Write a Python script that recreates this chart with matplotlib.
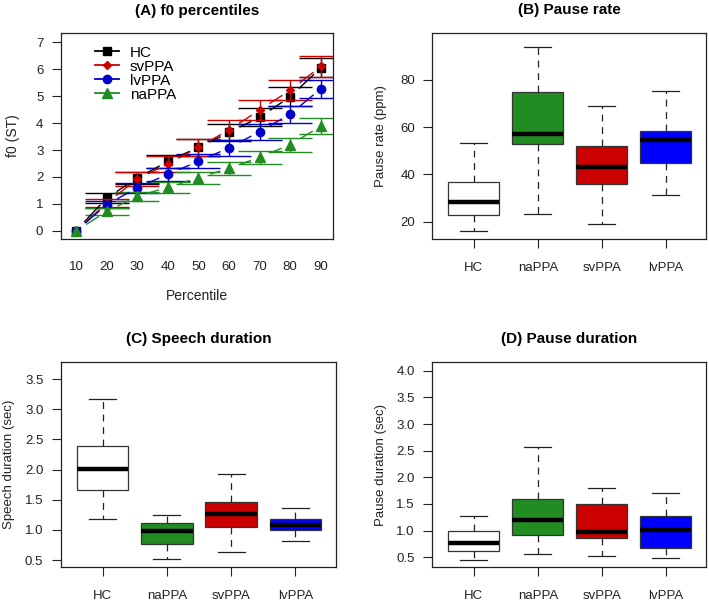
import matplotlib
matplotlib.use('Agg')
from matplotlib import pyplot as plt
from matplotlib.lines import Line2D

plt.rcParams['font.family'] = ['Liberation Sans', 'DejaVu Sans']

# (A) f0 percentiles: mean and error per group
percentiles = [10, 20, 30, 40, 50, 60, 70, 80, 90]
f0_hc = [0, 1.22, 1.95, 2.58, 3.10, 3.65, 4.22, 4.97, 6.05]
f0_hc_err = [0, 0.17, 0.22, 0.24, 0.31, 0.33, 0.33, 0.35, 0.35]
f0_sv = [0, 1.03, 1.92, 2.48, 3.10, 3.75, 4.48, 5.22, 6.10]
f0_sv_err = [0, 0.15, 0.26, 0.30, 0.32, 0.37, 0.37, 0.38, 0.38]
f0_lv = [0, 0.97, 1.60, 2.10, 2.58, 3.08, 3.68, 4.33, 5.27]
f0_lv_err = [0, 0.13, 0.18, 0.24, 0.26, 0.29, 0.30, 0.31, 0.34]
f0_na = [0, 0.72, 1.28, 1.62, 1.97, 2.32, 2.73, 3.20, 3.88]
f0_na_err = [0, 0.12, 0.17, 0.21, 0.22, 0.23, 0.25, 0.26, 0.30]

# boxplot groups
groups = ['HC', 'naPPA', 'svPPA', 'lvPPA']
box_colors = ['white', '#228B22', '#CD0000', '#0000FF']

# (B) pause rate (ppm)
rate_whislo = [16.1, 23.4, 18.9, 31.3]
rate_q1 = [23.0, 52.8, 35.8, 44.9]
rate_med = [28.2, 56.9, 43.2, 54.5]
rate_q3 = [36.7, 74.9, 52.1, 58.4]
rate_whishi = [53.1, 94.0, 69.0, 75.3]

# (C) speech duration (sec)
speech_whislo = [1.18, 0.51, 0.64, 0.81]
speech_q1 = [1.66, 0.77, 1.05, 1.00]
speech_med = [2.01, 0.99, 1.27, 1.08]
speech_q3 = [2.40, 1.11, 1.46, 1.18]
speech_whishi = [3.17, 1.24, 1.92, 1.37]

# (D) pause duration (sec)
pause_whislo = [0.45, 0.55, 0.52, 0.48]
pause_q1 = [0.61, 0.91, 0.86, 0.68]
pause_med = [0.77, 1.19, 0.97, 1.01]
pause_q3 = [0.99, 1.60, 1.49, 1.28]
pause_whishi = [1.28, 2.56, 1.79, 1.71]

W, H = 709, 601
fig = plt.figure(figsize=(W / 100, H / 100), dpi=100)


def px_axes(left, top, right, bottom):
    return fig.add_axes([left / W, 1 - bottom / H, (right - left) / W, (bottom - top) / H])


def style_axes(ax):
    for sp in ax.spines.values():
        sp.set_linewidth(0.9)
        sp.set_color('#222222')
    ax.tick_params(direction='out', length=6.5, width=0.8, color='#222222',
                   labelsize=9.5, labelcolor='#222222')
    ax.tick_params(axis='y', pad=6)


axA = px_axes(60.7, 33.3, 333.3, 238.7)
axB = px_axes(432.3, 33.3, 706, 238.7)
axC = px_axes(60.7, 362.3, 336, 566.7)
axD = px_axes(432.3, 362.3, 706, 566.7)

# ---- panel A
xs = list(range(1, len(percentiles) + 1))
series = [
    ('HC', f0_hc, f0_hc_err, 'black', 's', 5.5),
    ('svPPA', f0_sv, f0_sv_err, '#CD0000', 'D', 3.8),
    ('lvPPA', f0_lv, f0_lv_err, '#0000CD', 'o', 6),
    ('naPPA', f0_na, f0_na_err, '#228B22', '^', 6.5),
]
axA.set_xlim(0.5, 9.41)
axA.set_ylim(-0.29, 7.33)
handles = []
for name, ys, err, col, mk, ms in series:
    # first percentile is the reference point (no spread)
    axA.errorbar(xs[1:], ys[1:], yerr=err[1:], fmt='none', ecolor=col, elinewidth=1.0,
                 capsize=15.5, capthick=1.0)
    for i in range(len(xs) - 1):
        axA.annotate('', xy=(xs[i + 1], ys[i + 1]), xytext=(xs[i], ys[i]),
                     arrowprops=dict(arrowstyle='-', color=col, lw=1.0,
                                     shrinkA=9, shrinkB=7))
    axA.plot(xs, ys, linestyle='none', marker=mk, markersize=ms, color=col)
    handles.append(Line2D([], [], color=col, marker=mk, markersize=ms, lw=1.3, label=name))
axA.set_xticks(xs)
axA.set_xticklabels([str(p) for p in percentiles])
axA.set_yticks(range(0, 8))
style_axes(axA)
axA.tick_params(axis='x', length=0, pad=16)
axA.set_xlabel('Percentile', fontsize=10, color='#222222')
axA.xaxis.set_label_coords(0.5, -0.245)
axA.set_ylabel('f0 (ST)', fontsize=10, color='#222222')
axA.yaxis.set_label_coords(-0.15, 0.5)
axA.set_title('(A) f0 percentiles', fontsize=11, fontweight='bold', pad=13)
axA.legend(handles=handles, loc='upper left', bbox_to_anchor=(0.08, 1.0), frameon=False,
           fontsize=11, labelspacing=0.0, handlelength=1.6, handletextpad=0.7,
           borderpad=0.3)


# ---- boxplot panels
def box_panel(ax, whislo, q1, med, q3, whishi, ylim, yticks, ylabel, title):
    stats = []
    for i in range(len(groups)):
        stats.append(dict(label=groups[i], whislo=whislo[i], q1=q1[i], med=med[i],
                          q3=q3[i], whishi=whishi[i], fliers=[]))
    bp = ax.bxp(stats, positions=range(1, len(groups) + 1), widths=0.8, capwidths=0.42,
                patch_artist=True, showfliers=False,
                boxprops=dict(edgecolor='#333333', linewidth=0.9),
                medianprops=dict(color='black', linewidth=3.2, solid_capstyle='butt'),
                whiskerprops=dict(color='#222222', linewidth=0.9, linestyle=(0, (5.5, 4.5))),
                capprops=dict(color='#222222', linewidth=0.9))
    for patch, col in zip(bp['boxes'], box_colors):
        patch.set_facecolor(col)
    ax.set_xlim(0.35, 4.63)
    ax.set_ylim(*ylim)
    ax.set_yticks(yticks)
    style_axes(ax)
    ax.tick_params(axis='x', pad=10)
    ax.set_ylabel(ylabel, fontsize=9.5, color='#222222')
    ax.yaxis.set_label_coords(-0.165, 0.5)
    ax.set_title(title, fontsize=11, fontweight='bold', pad=14)


box_panel(axB, rate_whislo, rate_q1, rate_med, rate_q3, rate_whishi,
          (12.8, 99.6), [20, 40, 60, 80], 'Pause rate (ppm)', '(B) Pause rate')
box_panel(axC, speech_whislo, speech_q1, speech_med, speech_q3, speech_whishi,
          (0.39, 3.78), [0.5, 1.0, 1.5, 2.0, 2.5, 3.0, 3.5], 'Speech duration (sec)',
          '(C) Speech duration')
box_panel(axD, pause_whislo, pause_q1, pause_med, pause_q3, pause_whishi,
          (0.32, 4.16), [0.5, 1.0, 1.5, 2.0, 2.5, 3.0, 3.5, 4.0], 'Pause duration (sec)',
          '(D) Pause duration')
for ax in (axC, axD):
    ax.set_yticklabels([f'{v:.1f}' for v in ax.get_yticks()])

fig.savefig('out.png', dpi=100)
